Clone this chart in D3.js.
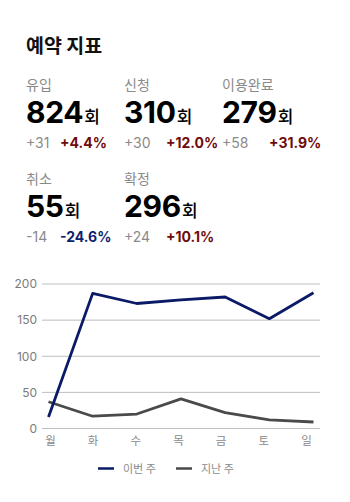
<!DOCTYPE html>
<html>
<head>
<meta charset="utf-8">
<script src="https://cdn.jsdelivr.net/npm/d3@7/dist/d3.min.js"></script>
<style>
  html, body { margin: 0; padding: 0; background: #fff; }
  svg { display: block; font-family: Inter, "Noto Sans CJK KR", sans-serif; }
</style>
</head>
<body>
<svg id="chart" width="350" height="502"></svg>
<script>
// Booking metrics
const metricNames = ["유입", "신청", "이용완료", "취소", "확정"];
const metricCounts = [824, 310, 279, 55, 296];
const metricDiffs = ["+31", "+30", "+58", "-14", "+24"];
const metricRates = ["+4.4%", "+12.0%", "+31.9%", "-24.6%", "+10.1%"];

// Weekly trend
const days = ["월", "화", "수", "목", "금", "토", "일"];
const thisWeek = [16, 187, 173, 178, 182, 152, 188];
const lastWeek = [37, 17, 20, 41, 22, 12, 9];
const yTicks = [0, 50, 100, 150, 200];
const seriesNames = ["이번 주", "지난 주"];

const NAVY = "#0b1a66";
const GREY_LINE = "#4a4a4a";
const UP = "#6e0b0b";
const DOWN = "#0e1f6e";

const svg = d3.select("#chart");

svg.append("text")
  .attr("x", 26).attr("y", 52.5)
  .attr("font-size", 19.5).attr("font-weight", 700).attr("fill", "#111")
  .attr("font-family", "'Noto Sans CJK KR', sans-serif")
  .text("예약 지표");

// metric cards: 3 per row
const colX = [26, 124, 222];
const rateOffset = [34, 42, 47];
metricNames.forEach((name, i) => {
  const col = i % 3, row = Math.floor(i / 3);
  const x = colX[col];
  const y0 = 90 + row * 94;
  const g = svg.append("g");
  g.append("text").attr("x", x).attr("y", y0)
    .attr("font-size", 14).attr("fill", "#8a8a8a")
    .attr("font-family", "'Noto Sans CJK KR', sans-serif").text(name);
  const num = g.append("text").attr("x", x).attr("y", y0 + 32.5)
    .attr("fill", "#000");
  num.append("tspan").attr("font-size", 30).attr("font-weight", 700)
    .attr("letter-spacing", -0.3).text(metricCounts[i]);
  num.append("tspan").attr("font-size", 17).attr("font-weight", 500)
    .attr("font-family", "'Noto Sans CJK KR', sans-serif")
    .attr("dx", 1).text("회");
  g.append("text").attr("x", x).attr("y", y0 + 57.5)
    .attr("font-size", 14).attr("fill", "#8a8a8a").text(metricDiffs[i]);
  const rate = metricRates[i];
  g.append("text").attr("x", x + rateOffset[col]).attr("y", y0 + 57.5)
    .attr("font-size", 14).attr("font-weight", 700)
    .attr("fill", rate.startsWith("-") ? DOWN : UP).text(rate);
});

// line chart
const gridLeft = 42, gridRight = 320;
const y = d3.scaleLinear().domain([0, 200]).range([428.5, 284]);
const xLine = d3.scalePoint().domain(days).range([48.5, 313.5]);
const xLabel = d3.scalePoint().domain(days).range([50, 306]);

const grid = svg.append("g");
grid.selectAll("line").data(yTicks).join("line")
  .attr("x1", gridLeft).attr("x2", gridRight)
  .attr("y1", d => y(d)).attr("y2", d => y(d))
  .attr("stroke", "#bdbdbd").attr("stroke-width", 1);

const yAxis = svg.append("g").attr("transform", `translate(${gridLeft},0)`)
  .call(d3.axisLeft(y).tickValues(yTicks).tickSize(0).tickPadding(5));
yAxis.select(".domain").remove();
yAxis.selectAll("text").attr("font-size", 12).attr("fill", "#7a7a7a")
  .attr("font-family", "Inter, sans-serif");

const xAxis = svg.append("g").attr("transform", "translate(0,434)")
  .call(d3.axisBottom(xLabel).tickSize(0).tickPadding(3));
xAxis.select(".domain").remove();
xAxis.selectAll("text").attr("font-size", 11.5).attr("fill", "#8a8a8a")
  .attr("font-family", "'Noto Sans CJK KR', sans-serif");

const line = d3.line().x((d, i) => xLine(days[i])).y(d => y(d));
svg.append("path").datum(lastWeek).attr("d", line)
  .attr("fill", "none").attr("stroke", GREY_LINE).attr("stroke-width", 2.8)
  .attr("stroke-linejoin", "round");
svg.append("path").datum(thisWeek).attr("d", line)
  .attr("fill", "none").attr("stroke", NAVY).attr("stroke-width", 2.8)
  .attr("stroke-linejoin", "round");

// legend
const legendX = [98, 176];
const legendColors = [NAVY, GREY_LINE];
seriesNames.forEach((n, i) => {
  svg.append("line").attr("x1", legendX[i]).attr("x2", legendX[i] + 16)
    .attr("y1", 468.5).attr("y2", 468.5)
    .attr("stroke", legendColors[i]).attr("stroke-width", 2.5);
  svg.append("text").attr("x", legendX[i] + 25).attr("y", 472.5)
    .attr("font-size", 11).attr("fill", "#8a8a8a")
    .attr("font-family", "'Noto Sans CJK KR', sans-serif").text(n);
});
</script>
</body>
</html>
